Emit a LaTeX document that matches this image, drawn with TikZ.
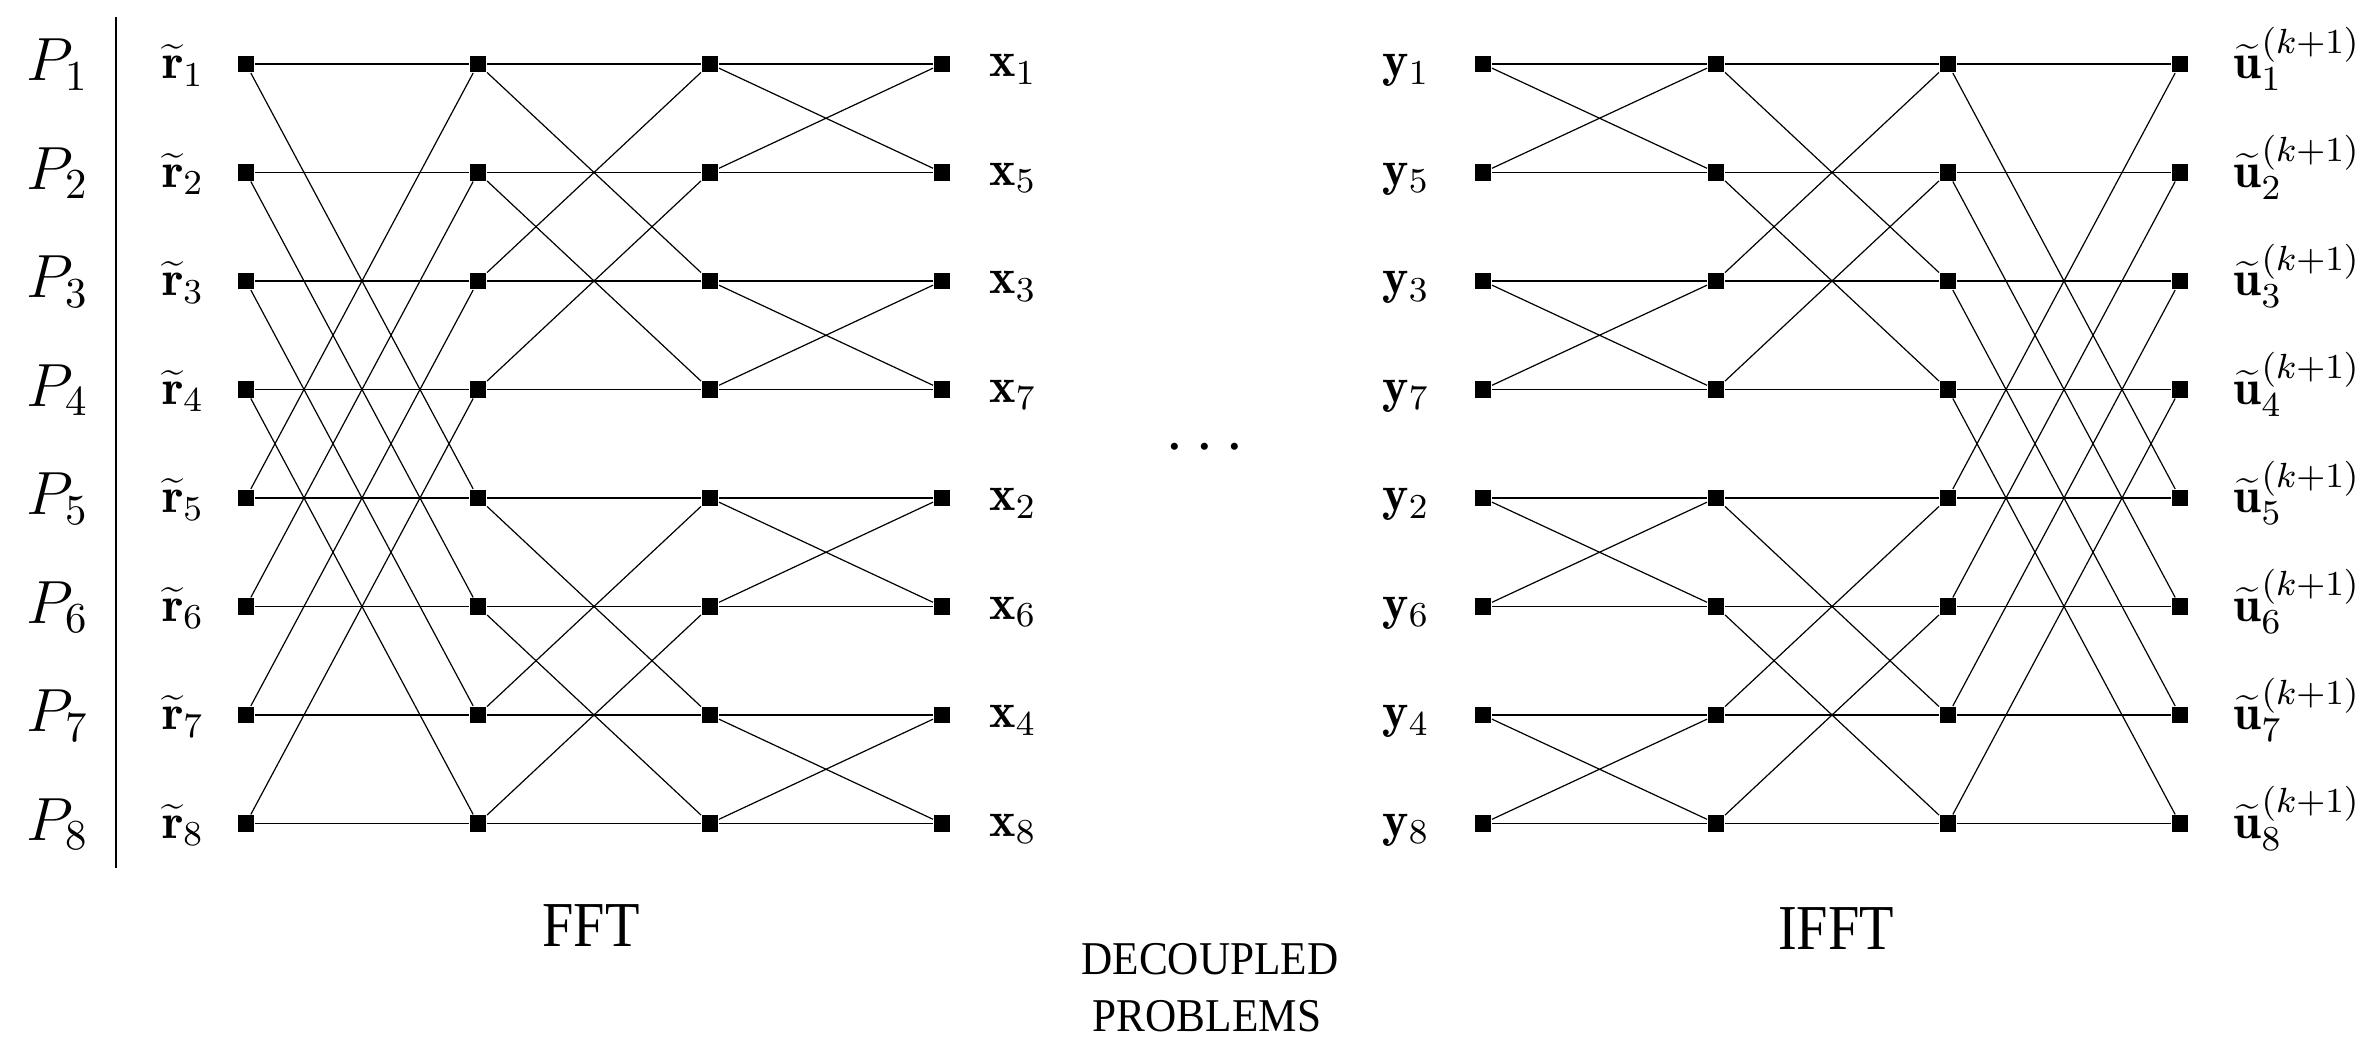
\RequirePackage{fix-cm}
\documentclass[tikz,border=0pt]{standalone}
\usepackage{fontspec}
\newfontfamily\tnr{Liberation Serif}
\begin{document}
\begin{tikzpicture}[x=0.25pt,y=-0.25pt,
  sq/.style={rectangle,fill=black,inner sep=0pt,minimum size=4.1pt},
  wire/.style={line width=0.3pt},
  lab/.style={anchor=base,inner sep=0pt,font=\fontsize{12.5}{14}\selectfont},
  ulab/.style={anchor=base west,inner sep=0pt,font=\fontsize{12.5}{14}\selectfont},
  plab/.style={anchor=base,inner sep=0pt,font=\fontsize{15.25}{18}\selectfont},
  caplab/.style={anchor=base,inner sep=0pt,font=\tnr\fontsize{16}{19}\selectfont},
  sublab/.style={anchor=base,inner sep=0pt,font=\tnr\fontsize{11.75}{14}\selectfont},
]
\useasboundingbox (0,0) rectangle (2366,1044);

% nodes
\foreach \c/\x in {1/246,2/478,3/710,4/942} {
  \foreach \r in {1,...,8} {
    \node[sq] (f\c\r) at (\x,{64+(\r-1)*108.5}) {};
  }
}
\foreach \c/\x in {1/1483,2/1716,3/1948,4/2180} {
  \foreach \r in {1,...,8} {
    \node[sq] (g\c\r) at (\x,{64+(\r-1)*108.5}) {};
  }
}

% horizontal wires
\foreach \r in {1,...,8} {
  \draw[wire] (f1\r) -- (f2\r) (f2\r) -- (f3\r) (f3\r) -- (f4\r);
  \draw[wire] (g1\r) -- (g2\r) (g2\r) -- (g3\r) (g3\r) -- (g4\r);
}
% stride 4
\foreach \a/\b in {1/5,2/6,3/7,4/8} {
  \draw[wire] (f1\a) -- (f2\b) (f1\b) -- (f2\a);
  \draw[wire] (g3\a) -- (g4\b) (g3\b) -- (g4\a);
}
% stride 2
\foreach \a/\b in {1/3,2/4,5/7,6/8} {
  \draw[wire] (f2\a) -- (f3\b) (f2\b) -- (f3\a);
  \draw[wire] (g2\a) -- (g3\b) (g2\b) -- (g3\a);
}
% stride 1
\foreach \a/\b in {1/2,3/4,5/6,7/8} {
  \draw[wire] (f3\a) -- (f4\b) (f3\b) -- (f4\a);
  \draw[wire] (g1\a) -- (g2\b) (g1\b) -- (g2\a);
}

% labels
\foreach \r in {1,...,8} {
  \node[plab] (p\r) at (57.5,{64+(\r-1)*108.5+17}) {$P_{\r}$};
  \node[lab] (rl\r) at (183,{64+(\r-1)*108.5+15}) {$\widetilde{\mathbf{r}}_{\r}$};
  \node[ulab] (ul\r) at (2233,{64+(\r-1)*108.5+15}) {$\widetilde{\mathbf{u}}_{\r}^{(k+1)}$};
}
\foreach \r/\k in {1/1,2/5,3/3,4/7,5/2,6/6,7/4,8/8} {
  \node[lab] (xl\r) at (1013,{64+(\r-1)*108.5+13}) {$\mathbf{x}_{\k}$};
  \node[lab] (yl\r) at (1406,{64+(\r-1)*108.5+13}) {$\mathbf{y}_{\k}$};
}

% separator
\coordinate (vt) at (116,17);
\coordinate (vb) at (116,868);
\draw[line width=0.7pt] (vt) -- (vb);

% dots
\node[anchor=base,inner sep=0pt,font=\fontsize{16.75}{20}\selectfont] (dots) at (1205,463.5) {$\cdots$};

% captions
\node[caplab] (fft) at (591,947) {\scalebox{0.88}[1]{FFT}};
\node[caplab] (ifft) at (1836,950) {\scalebox{0.88}[1]{IFFT}};
\node[sublab] (dec) at (1210,975) {\scalebox{0.92}[1]{DECOUPLED}};
\node[sublab] (prob) at (1207,1032) {\scalebox{0.92}[1]{PROBLEMS}};
\end{tikzpicture}
\end{document}
